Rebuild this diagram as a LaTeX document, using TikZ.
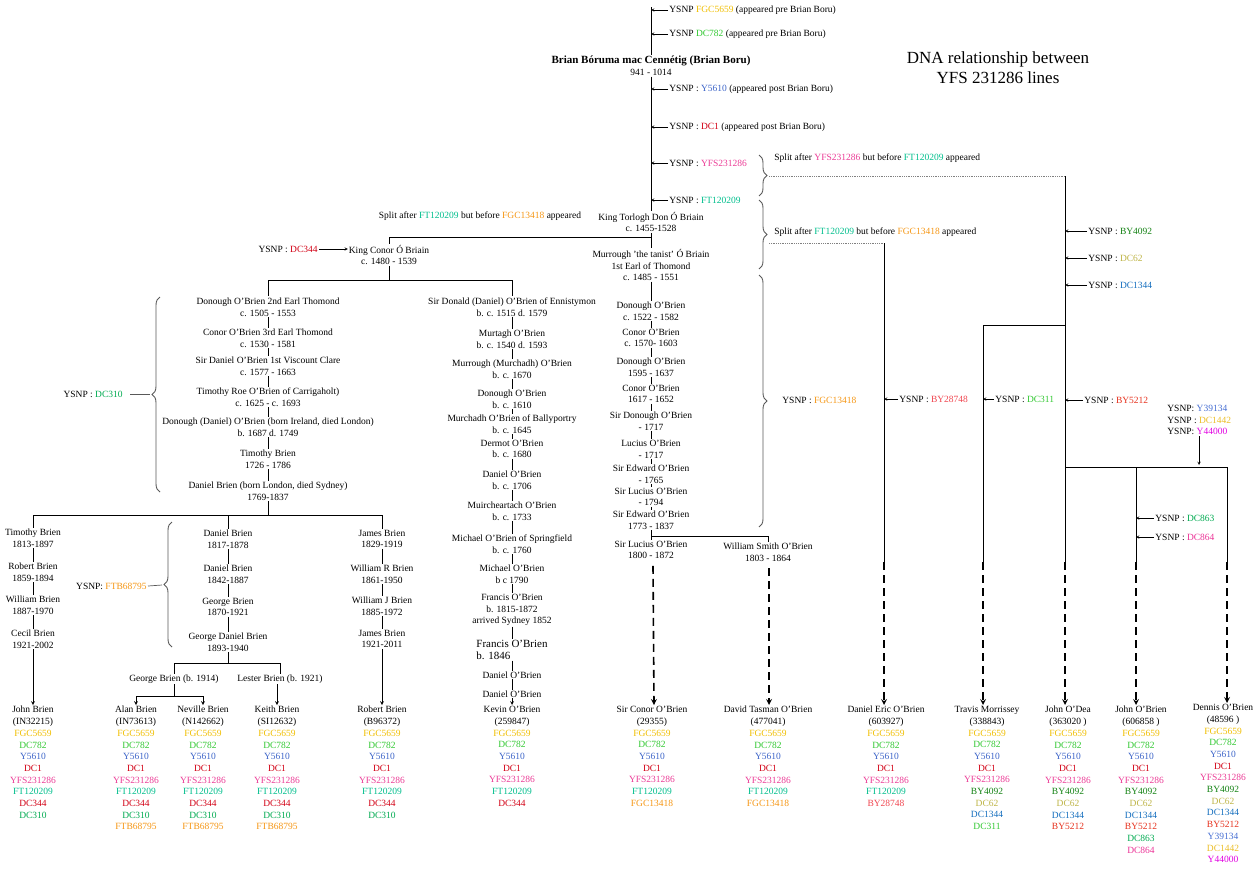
\documentclass[tikz,border=0pt]{standalone}
\usepackage{fontspec}
\setmainfont{Liberation Serif}
\usepackage{tikz}
\usetikzlibrary{calc, positioning, arrows.meta}
\usetikzlibrary{decorations.pathreplacing}

\definecolor{FGC5659}{RGB}{240,190,0}
\definecolor{DC782}{RGB}{50,200,50}
\definecolor{Y5610}{RGB}{60,100,200}
\definecolor{DC1}{RGB}{210,0,20}
\definecolor{YFS231286}{RGB}{235,60,150}
\definecolor{FT120209}{RGB}{0,190,140}
\definecolor{DC344}{RGB}{210,0,20}
\definecolor{DC310}{RGB}{0,170,80}
\definecolor{FTB68795}{RGB}{245,150,20}
\definecolor{FGC13418}{RGB}{245,150,20}
\definecolor{BY28748}{RGB}{240,70,80}
\definecolor{BY4092}{RGB}{20,130,20}
\definecolor{DC62}{RGB}{190,180,70}
\definecolor{DC1344}{RGB}{20,110,190}
\definecolor{DC311}{RGB}{50,200,50}
\definecolor{BY5212}{RGB}{230,50,30}
\definecolor{Y39134}{RGB}{70,110,210}
\definecolor{DC1442}{RGB}{235,190,40}
\definecolor{Y44000}{RGB}{225,0,225}
\definecolor{DC863}{RGB}{0,170,80}
\definecolor{DC864}{RGB}{235,50,150}

\newcommand{\snp}[1]{\textcolor{#1}{#1}}
\newcommand{\basesnps}{\snp{FGC5659}\\\snp{DC782}\\\snp{Y5610}\\\snp{DC1}\\\snp{YFS231286}}
\newcommand{\nfont}{\fontsize{9.5}{11.7}\selectfont}

\begin{document}
\begin{tikzpicture}[x=1pt, y=-1pt, line width=0.7pt,
        person/.style={align=center, inner sep=0.5pt, font=\nfont},
        leaf/.style={person, anchor=north, inner sep=1pt},
        snplabel/.style={inner sep=1pt, font=\nfont},
        snparr/.style={-stealth, line width=0.5pt},
        dasharr/.style={-stealth, line width=1.6pt, dash pattern=on 8pt off 5pt},
        dotline/.style={gray, densely dotted, line width=0.8pt},
        bracket/.style={decorate, decoration={brace, amplitude=8pt}, gray!70!black, line width=0.9pt}]
    \useasboundingbox (0,0) rectangle (1260,884);

    % title
    \node[align=center, font=\fontsize{17}{20}\selectfont] (title) at (998,68) {DNA relationship between\\YFS 231286 lines};

    % main line
    \coordinate (stemx) at (651,0);
    \coordinate (top) at (651,7);
    \node[person] (boru) at (651,66) {\textbf{\fontsize{11}{11.7}\selectfont Brian Bóruma mac Cennétig (Brian Boru)}\\941 - 1014};
    \node[person] (torlogh) at (651,222) {King Torlogh Don Ó Briain\\c. 1455-1528};
    \node[person] (murrough) at (651,265) {Murrough 'the tanist' Ó Briain\\1st Earl of Thomond\\c. 1485 - 1551};
    \node[person] (donoughT) at (651,311) {Donough O'Brien\\c. 1522 - 1582};
    \node[person] (conorT) at (651,338) {Conor O'Brien\\c. 1570- 1603};
    \node[person] (donoughTT) at (651,367) {Donough O'Brien\\1595 - 1637};
    \node[person] (conorTT) at (651,394) {Conor O'Brien\\1617 - 1652};
    \node[person] (sirdonough) at (651,421) {Sir Donough O'Brien\\- 1717};
    \node[person] (luciusA) at (651,449) {Lucius O'Brien\\- 1717};
    \node[person] (edwardA) at (651,474) {Sir Edward O'Brien\\- 1765};
    \node[person] (luciusB) at (651,497) {Sir Lucius  O'Brien\\- 1794};
    \node[person] (edwardB) at (651,520) {Sir Edward O'Brien\\1773 - 1837};
    \node[person] (luciusC) at (651,550) {Sir Lucius O'Brien\\1800 - 1872};
    \node[person] (william) at (768,552) {William  Smith O'Brien\\1803 - 1864};

    \draw (top) -- (boru) -- (torlogh) -- (murrough) -- (donoughT) -- (conorT) -- (donoughTT) -- (conorTT) -- (sirdonough) -- (luciusA) -- (edwardA) -- (luciusB) -- (edwardB) -- (luciusC);
    \coordinate (brW) at (651,536);
    \draw (brW) -| (william);

    \node[snplabel, anchor=west] (pre1) at (668,10) {YSNP \snp{FGC5659} (appeared pre Brian Boru)};
    \node[snplabel, anchor=west] (pre2) at (668,34) {YSNP \snp{DC782} (appeared pre Brian Boru)};
    \node[snplabel, anchor=west] (post1) at (668,89) {YSNP : \snp{Y5610} (appeared post Brian Boru)};
    \node[snplabel, anchor=west] (post2) at (668,127) {YSNP : \snp{DC1} (appeared post Brian Boru)};
    \node[snplabel, anchor=west] (yfs) at (668,163) {YSNP : \snp{YFS231286}};
    \node[snplabel, anchor=west] (ft) at (668,200) {YSNP : \snp{FT120209}};
    \draw[snparr] (pre1.west) -- (pre1.west -| stemx);
    \draw[snparr] (pre2.west) -- (pre2.west -| stemx);
    \draw[snparr] (post1.west) -- (post1.west -| stemx);
    \draw[snparr] (post2.west) -- (post2.west -| stemx);
    \draw[snparr] (yfs.west) -- (yfs.west -| stemx);
    \draw[snparr] (ft.west) -- (ft.west -| stemx);

    % braces and splits
    \draw[bracket] (759,155) -- (759,196);
    \draw[bracket] (759,200) -- (759,269);
    \draw[bracket] (759,275) -- (759,527);
    \node[snplabel, anchor=west] (splitlabA) at (773,158) {Split after \snp{YFS231286} but before \snp{FT120209} appeared};
    \node[snplabel, anchor=west] (splitlabB) at (773,232) {Split after \snp{FT120209} but before \snp{FGC13418} appeared};
    \node[snplabel, anchor=west] (fgc) at (781,400) {YSNP : \snp{FGC13418}};
    \node[snplabel] (splitlabL) at (480,216) {Split after \snp{FT120209} but before \snp{FGC13418} appeared};

    % King Conor branch
    \node[person] (conor) at (389,255) {King Conor Ó Briain\\c. 1480 - 1539};
    \node[snplabel, anchor=east] (dc344) at (319,249) {YSNP : \snp{DC344}};
    \draw[snparr] (dc344.east) -- (dc344.east -| conor.west);
    \coordinate (brT) at (651,237);
    \draw (brT) -| (conor);
    \coordinate (brC) at (389,280);
    \draw (conor) -- (brC);
    \draw (brC) -| (268,296);
    \draw (brC) -| (512,296);

    % Earls line
    \node[person] (donoughE) at (268,307) {Donough O'Brien 2nd Earl Thomond\\c. 1505 - 1553};
    \node[person] (conorE) at (268,338) {Conor O'Brien 3rd Earl Thomond\\c. 1530 - 1581};
    \node[person] (danielV) at (268,366) {Sir Daniel O'Brien 1st Viscount Clare\\c. 1577 - 1663};
    \node[person] (timroe) at (268,397) {Timothy Roe O'Brien of Carrigaholt)\\c. 1625 - c. 1693};
    \node[person] (donoughD) at (268,427) {Donough (Daniel)  O'Brien (born Ireland, died London)\\b. 1687 d. 1749};
    \node[person] (timothy) at (268,459) {Timothy Brien\\1726 - 1786};
    \node[person] (danielS) at (268,491) {Daniel Brien (born London, died Sydney)\\1769-1837};
    \draw (donoughE) -- (conorE) -- (danielV) -- (timroe) -- (donoughD) -- (timothy) -- (danielS);
    \draw[bracket] (160,492) -- (160,297);
    \node[snplabel, anchor=east] (dc310) at (124,394) {YSNP : \snp{DC310}};
    \coordinate (tipD) at (150,394);
    \draw[gray!70!black] (dc310.east) ++(6,0) -- (tipD);

    % Ennistymon line
    \node[person] (donald) at (512,307) {Sir Donald (Daniel)  O'Brien of Ennistymon\\b. c. 1515 d. 1579};
    \node[person] (murtagh) at (512,339) {Murtagh  O'Brien\\b. c. 1540 d. 1593};
    \node[person] (murroughM) at (512,369) {Murrough (Murchadh) O'Brien\\b. c. 1670};
    \node[person] (donoughB) at (512,399) {Donough O'Brien\\b. c. 1610};
    \node[person] (murchadh) at (512,424) {Murchadh O'Brien of Ballyportry\\b. c. 1645};
    \node[person] (dermot) at (512,449) {Dermot O'Brien\\b. c. 1680};
    \node[person] (danielO) at (512,480) {Daniel O'Brien\\b. c. 1706};
    \node[person] (muirch) at (512,511) {Muircheartach  O'Brien\\b. c. 1733};
    \node[person] (michaelS) at (512,544) {Michael O'Brien of Springfield\\b. c. 1760};
    \node[person] (michael) at (512,574) {Michael O'Brien\\b c 1790};
    \node[person] (francisA) at (512,610) {Francis O'Brien\\b. 1815-1872\\arrived  Sydney 1852};
    \node[person, align=left, font=\fontsize{11}{12}\selectfont] (francisB) at (512,650) {Francis  O'Brien\\b. 1846};
    \node[person] (danielP) at (512,675) {Daniel O'Brien};
    \node[person] (danielQ) at (512,694) {Daniel  O'Brien};
    \draw (donald) -- (murtagh) -- (murroughM) -- (donoughB) -- (murchadh) -- (dermot) -- (danielO) -- (muirch) -- (michaelS) -- (michael) -- (francisA) -- (francisB) -- (danielP) -- (danielQ);

    % Sydney branches
    \coordinate (brS) at (268,515);
    \node[person] (timothyB) at (33,538) {Timothy Brien\\1813-1897};
    \node[person] (robertB) at (33,572) {Robert Brien\\1859-1894};
    \node[person] (williamB) at (33,605) {William  Brien\\1887-1970};
    \node[person] (cecilB) at (33,639) {Cecil Brien\\1921-2002};
    \node[person] (danielC) at (228,539) {Daniel Brien\\1817-1878};
    \node[person] (danielD) at (228,574) {Daniel  Brien\\1842-1887};
    \node[person] (georgeB) at (228,607) {George Brien\\1870-1921};
    \node[person] (georgeDB) at (228,642) {George Daniel  Brien\\1893-1940};
    \node[person] (jamesB) at (382,539) {James Brien\\1829-1919};
    \node[person] (williamR) at (382,574) {William  R Brien\\1861-1950};
    \node[person] (williamJ) at (382,606) {William  J Brien\\1885-1972};
    \node[person] (jamesC) at (382,639) {James Brien\\1921-2011};
    \draw (danielS) -- (brS);
    \draw (timothyB) |- (brS) -| (jamesB);
    \draw (danielC) -- (danielC |- brS);
    \draw (timothyB) -- (robertB) -- (williamB) -- (cecilB);
    \draw (danielC) -- (danielD) -- (georgeB) -- (georgeDB);
    \draw (jamesB) -- (williamR) -- (williamJ) -- (jamesC);
    \draw[bracket] (172,647) -- (172,522);
    \node[snplabel, anchor=east] (ftb) at (148,586) {YSNP: \snp{FTB68795}};
    \coordinate (tipE) at (162,585);
    \draw[gray!70!black] (ftb.east) -- (tipE);

    \coordinate (brG) at (228,663);
    \node[person] (george14) at (174,679) {George Brien (b. 1914)};
    \node[person] (lester) at (280,679) {Lester Brien  (b. 1921)};
    \draw (georgeDB) -- (brG);
    \draw (george14) |- (brG) -| (lester);
    \coordinate (brA) at (174,696);
    \draw (george14) -- (brA);

    % tested descendants
    \node[leaf] (johnB) at (33,705) {John Brien\\(IN32215)\\\basesnps\\\snp{FT120209}\\\snp{DC344}\\\snp{DC310}};
    \node[leaf] (alan) at (136,705) {Alan Brien\\(IN73613)\\\basesnps\\\snp{FT120209}\\\snp{DC344}\\\snp{DC310}\\\snp{FTB68795}};
    \node[leaf] (neville) at (203,705) {Neville  Brien\\(N142662)\\\basesnps\\\snp{FT120209}\\\snp{DC344}\\\snp{DC310}\\\snp{FTB68795}};
    \node[leaf] (keith) at (277,705) {Keith Brien\\(SI12632)\\\basesnps\\\snp{FT120209}\\\snp{DC344}\\\snp{DC310}\\\snp{FTB68795}};
    \node[leaf] (robertC) at (382,705) {Robert Brien\\(B96372)\\\basesnps\\\snp{FT120209}\\\snp{DC344}\\\snp{DC310}};
    \node[leaf] (kevin) at (512,705) {Kevin  O'Brien\\(259847)\\\basesnps\\\snp{FT120209}\\\snp{DC344}};
    \node[leaf] (conorS) at (652,705) {Sir Conor O'Brien\\(29355)\\\basesnps\\\snp{FT120209}\\\snp{FGC13418}};
    \node[leaf] (david) at (768,705) {David Tasman O'Brien\\(477041)\\\basesnps\\\snp{FT120209}\\\snp{FGC13418}};
    \node[leaf] (eric) at (886,705) {Daniel Eric  O'Brien\\(603927)\\\basesnps\\\snp{FT120209}\\\snp{BY28748}};
    \node[leaf] (travis) at (987,705) {Travis Morrissey\\(338843)\\\basesnps\\\snp{BY4092}\\\snp{DC62}\\\snp{DC1344}\\\snp{DC311}};
    \node[leaf] (johnD) at (1068,705) {John O'Dea\\(363020 )\\\basesnps\\\snp{BY4092}\\\snp{DC62}\\\snp{DC1344}\\\snp{BY5212}};
    \node[leaf] (johnO) at (1141,705) {John O'Brien\\(606858 )\\\basesnps\\\snp{BY4092}\\\snp{DC62}\\\snp{DC1344}\\\snp{BY5212}\\\snp{DC863}\\\snp{DC864}};
    \node[leaf] (dennis) at (1223,703) {Dennis  O'Brien\\(48596 )\\\basesnps\\\snp{BY4092}\\\snp{DC62}\\\snp{DC1344}\\\snp{BY5212}\\\snp{Y39134}\\\snp{DC1442}\\\snp{Y44000}};

    \draw[-stealth] (cecilB) -- (johnB);
    \draw[-stealth] (brA) -| (alan);
    \draw[-stealth] (brA) -| (neville);
    \draw[-stealth] (keith.north |- lester.south) -- (keith);
    \draw[-stealth] (jamesC) -- (robertC);
    \draw[-stealth] (danielQ) -- (kevin);
    \draw[dasharr] ($(luciusC.south)+(2,6)$) -- (conorS.north -| 654,0);
    \draw[dasharr] ($(william.south)+(1,6)$) -- (david.north -| 769,0);

    % right hand lines
    \coordinate (tipA) at (769,176);
    \coordinate (tipB) at (769,243);
    \coordinate (splitA) at (1065,176);
    \coordinate (splitB) at (884,243);
    \coordinate (splitC) at (1065,325);
    \coordinate (splitD) at (1065,467);
    \coordinate (splitE) at (1136,467);
    \coordinate (endD) at (884,562);
    \coordinate (endT) at (983,562);
    \coordinate (endO) at (1065,562);
    \coordinate (endJ) at (1136,562);
    \coordinate (endN) at (1227,562);
    \draw[dotline] (tipA) -- (splitA);
    \draw[dotline] (tipB) -- (splitB);
    \draw (splitA) -- (endO);
    \draw (splitB) -- (endD);
    \draw (splitC) -| (endT);
    \draw (splitD) -| (endN);
    \draw (splitE) -- (endJ);
    \draw[dasharr] (endD) -- (endD |- eric.north);
    \draw[dasharr] (endT) -- (endT |- travis.north);
    \draw[dasharr] (endO) -- (endO |- johnD.north);
    \draw[dasharr] (endJ) -- (endJ |- johnO.north);
    \draw[dasharr] (endN) -- (endN |- dennis.north);

    \node[snplabel, anchor=west] (by4092) at (1087,231) {YSNP : \snp{BY4092}};
    \node[snplabel, anchor=west] (dc62) at (1087,258) {YSNP : \snp{DC62}};
    \node[snplabel, anchor=west] (dc1344) at (1087,285) {YSNP : \snp{DC1344}};
    \node[snplabel, anchor=west] (by5212) at (1083,400) {YSNP : \snp{BY5212}};
    \node[snplabel, anchor=west] (by28748) at (898,399) {YSNP : \snp{BY28748}};
    \node[snplabel, anchor=west] (dc311) at (994,399) {YSNP : \snp{DC311}};
    \node[snplabel, anchor=west] (dc863) at (1154,518) {YSNP : \snp{DC863}};
    \node[snplabel, anchor=west] (dc864) at (1154,537) {YSNP : \snp{DC864}};
    \draw[snparr] (by4092.west) -- (by4092.west -| splitA);
    \draw[snparr] (dc62.west) -- (dc62.west -| splitA);
    \draw[snparr] (dc1344.west) -- (dc1344.west -| splitA);
    \draw[snparr] (by5212.west) -- (by5212.west -| splitA);
    \draw[snparr] (by28748.west) -- (by28748.west -| splitB);
    \draw[snparr] (dc311.west) -- (dc311.west -| endT);
    \draw[snparr] (dc863.west) -- (dc863.west -| splitE);
    \draw[snparr] (dc864.west) -- (dc864.west -| splitE);

    \node[snplabel, anchor=west, align=left] (trio) at (1166,420) {YSNP: \snp{Y39134}\\YSNP : \snp{DC1442}\\YSNP: \snp{Y44000}};
    \coordinate (trioend) at (1199,465);
    \draw[snparr] (trio.south -| trioend) -- (trioend);
\end{tikzpicture}
\end{document}
